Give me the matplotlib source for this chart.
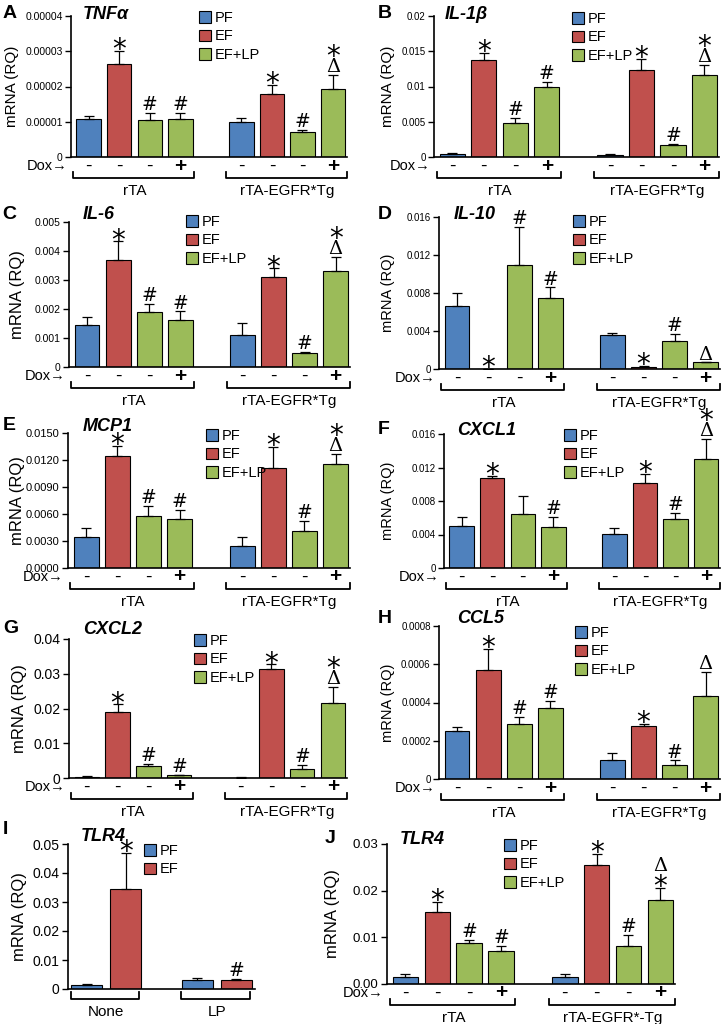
import matplotlib
matplotlib.use('Agg')
import matplotlib.pyplot as plt
from matplotlib.patches import Patch
from matplotlib.lines import Line2D
import matplotlib.transforms as mtransforms

plt.rcParams['font.family'] = ['Liberation Sans', 'DejaVu Sans']

# ---------------- data ----------------
groups8 = ['PF', 'EF', 'EF+LP', 'EF+LP', 'PF', 'EF', 'EF+LP', 'EF+LP']
dox8 = ['-', '-', '-', '+', '-', '-', '-', '+']
genotypes = ['rTA', 'rTA-EGFR*Tg']
genotypes_J = ['rTA', 'rTA-EGFR*-Tg']

A_mean = [1.08e-5, 2.63e-5, 1.05e-5, 1.07e-5, 1.00e-5, 1.78e-5, 0.70e-5, 1.92e-5]
A_sem = [0.09e-5, 0.38e-5, 0.21e-5, 0.18e-5, 0.11e-5, 0.27e-5, 0.08e-5, 0.42e-5]
A_marks = [[], ['*'], ['#'], ['#'], [], ['*'], ['#'], ['Δ', '*']]

B_mean = [0.0004, 0.0137, 0.0048, 0.0100, 0.0003, 0.0124, 0.0017, 0.0116]
B_sem = [0.0001, 0.0011, 0.0007, 0.0006, 0.0001, 0.0015, 0.0002, 0.0015]
B_marks = [[], ['*'], ['#'], ['#'], [], ['*'], ['#'], ['Δ', '*']]

C_mean = [0.00146, 0.00368, 0.00188, 0.00162, 0.00112, 0.0031, 0.00048, 0.0033]
C_sem = [0.00025, 0.00065, 0.0003, 0.0003, 0.0004, 0.0003, 0.00005, 0.0005]
C_marks = [[], ['*'], ['#'], ['#'], [], ['*'], ['#'], ['Δ', '*']]

D_mean = [0.0066, 0.00005, 0.0110, 0.0075, 0.0036, 0.0002, 0.0029, 0.0007]
D_sem = [0.0014, 0.0, 0.0040, 0.0011, 0.0002, 0.0001, 0.0008, 0.0]
D_marks = [[], ['*'], ['#'], ['#'], [], ['*'], ['#'], ['Δ']]

E_mean = [0.0034, 0.0125, 0.0058, 0.0054, 0.0025, 0.0111, 0.0041, 0.0116]
E_sem = [0.0011, 0.0011, 0.0011, 0.0011, 0.0010, 0.0024, 0.0011, 0.0011]
E_marks = [[], ['*'], ['#'], ['#'], [], ['*'], ['#'], ['Δ', '*']]

F_mean = [0.0050, 0.0107, 0.0064, 0.0049, 0.0041, 0.0101, 0.0059, 0.0130]
F_sem = [0.0011, 0.0003, 0.0022, 0.0012, 0.0007, 0.0011, 0.0007, 0.0024]
F_marks = [[], ['*'], [], ['#'], [], ['*'], ['#'], ['Δ', '*']]

G_mean = [0.0004, 0.0191, 0.0034, 0.0008, 0.0001, 0.0313, 0.0026, 0.0216]
G_sem = [0.0001, 0.0021, 0.0006, 0.0002, 0.0001, 0.0014, 0.0012, 0.0047]
G_marks = [[], ['*'], ['#'], ['#'], [], ['*'], ['#'], ['Δ', '*']]

H_mean = [0.00025, 0.00057, 0.00029, 0.00037, 0.00010, 0.000275, 0.000075, 0.000435]
H_sem = [0.000022, 0.00011, 0.000035, 0.00004, 0.000035, 0.000015, 0.000022, 0.000125]
H_marks = [[], ['*'], ['#'], ['#'], [], ['*'], ['#'], ['Δ']]

I_groups = ['PF', 'EF', 'PF', 'EF']
I_treat = ['None', 'LP']
I_mean = [0.0015, 0.0345, 0.0031, 0.0032]
I_sem = [0.0003, 0.0125, 0.0007, 0.0004]
I_marks = [[], ['*'], [], ['#']]

J_mean = [0.0015, 0.0155, 0.0087, 0.0070, 0.0015, 0.0256, 0.0081, 0.0179]
J_sem = [0.0006, 0.0021, 0.0008, 0.0012, 0.0006, 0.0022, 0.0025, 0.0027]
J_marks = [[], ['*'], ['#'], ['#'], [], ['*'], ['#'], ['*', 'Δ']]

A_ticks = [0, 1e-5, 2e-5, 3e-5, 4e-5]
A_labels = ['0', '0.00001', '0.00002', '0.00003', '0.00004']
B_ticks = [0, 0.005, 0.01, 0.015, 0.02]
B_labels = ['0', '0.005', '0.01', '0.015', '0.02']
C_ticks = [0, 0.001, 0.002, 0.003, 0.004, 0.005]
C_labels = ['0', '0.001', '0.002', '0.003', '0.004', '0.005']
D_ticks = [0, 0.004, 0.008, 0.012, 0.016]
D_labels = ['0', '0.004', '0.008', '0.012', '0.016']
E_ticks = [0, 0.003, 0.006, 0.009, 0.012, 0.015]
E_labels = ['0.0000', '0.0030', '0.0060', '0.0090', '0.0120', '0.0150']
F_ticks = [0, 0.004, 0.008, 0.012, 0.016]
F_labels = ['0', '0.004', '0.008', '0.012', '0.016']
G_ticks = [0, 0.01, 0.02, 0.03, 0.04]
G_labels = ['0', '0.01', '0.02', '0.03', '0.04']
H_ticks = [0, 0.0002, 0.0004, 0.0006, 0.0008]
H_labels = ['0', '0.0002', '0.0004', '0.0006', '0.0008']
I_ticks = [0, 0.01, 0.02, 0.03, 0.04, 0.05]
I_labels = ['0', '0.01', '0.02', '0.03', '0.04', '0.05']
J_ticks = [0, 0.01, 0.02, 0.03]
J_labels = ['0.00', '0.01', '0.02', '0.03']

COLORS = {'PF': '#4F81BD', 'EF': '#C0504D', 'EF+LP': '#9BBB59'}

# glyph metrics (fraction of font size): bottom, top of visible ink above baseline
GLYPH = {'*': (0.36, 0.77, 20, 'DejaVu Sans'),
         '#': (0.0, 0.73, 13.5, 'DejaVu Sans'),
         'Δ': (0.0, 0.73, 14, 'DejaVu Serif')}

# ---------------- layout ----------------
W, H = 725, 1024
fig = plt.figure(figsize=(7.25, 10.24), dpi=100)

X8 = [0, 1, 2, 3, 5, 6, 7, 8]
XI = [0, 1, 2.85, 3.85]


def fx(px):
    return px / W


def fy(py):
    return 1 - py / H


def panel(letter, gene, rect, mean, sem, marks, ticks, labels, tick_fs, ylab_fs,
          ylab_right, legend_xy, letter_xy, title_xy, bar_groups, xs, xlim,
          legend_names, group_names=genotypes, dox=True):
    left, top, right, bottom = rect
    w, h = right - left, bottom - top
    ax = fig.add_axes([fx(left), fy(bottom), w / W, h / H])
    colors = [COLORS[g] for g in bar_groups]
    ax.bar(xs, mean, width=0.8, color=colors, edgecolor='black', linewidth=0.8, zorder=2)
    ax.errorbar(xs, mean, yerr=[[0] * len(sem), sem], fmt='none', ecolor='black',
                elinewidth=0.9, capsize=3.5, capthick=0.9, zorder=3)
    ax.set_xlim(*xlim)
    ax.set_ylim(0, ticks[-1])
    ax.set_yticks(ticks)
    ax.set_yticklabels(labels, fontsize=tick_fs)
    ax.set_xticks([])
    for s in ['top', 'right']:
        ax.spines[s].set_visible(False)
    ax.spines['left'].set_linewidth(1.2)
    ax.spines['bottom'].set_linewidth(1.2)
    ax.tick_params(axis='y', direction='out', length=4, width=1.0, pad=2)
    ax.set_ylabel('mRNA (RQ)', fontsize=ylab_fs)
    ax.yaxis.set_label_coords((ylab_right - left) / w, 0.5)

    # significance marks
    for x, m, s, mk in zip(xs, mean, sem, marks):
        level = 2.0
        for sym in mk:
            b, t, fs, fam = GLYPH[sym]
            base = level - b * fs
            ax.annotate(sym, xy=(x, m + s), xytext=(0, base), textcoords='offset points',
                        ha='center', va='baseline', fontsize=fs, annotation_clip=False,
                        family=[fam])
            level = base + t * fs + 2.0

    trans = mtransforms.blended_transform_factory(ax.transData, ax.transAxes)
    if dox:
        for x, d in zip(xs, dox8):
            ax.text(x, -9 / h, d, transform=trans, ha='center', va='center',
                    fontsize=15 if d == '+' else 14, fontweight='bold' if d == '+' else 'normal')
        ax.text(-4 / w, -9 / h, 'Dox→', transform=ax.transAxes, ha='right', va='center',
                fontsize=10.5)
        by, tick_h, ly = 21, 6, 34
        nper = 4
        lo, hi = -0.5, 0.45
    else:
        by, tick_h, ly = 10, 7, 23
        nper = 2
        lo, hi = -0.42, 0.35
    # brackets
    for gi, name in enumerate(group_names):
        gx = xs[gi * nper:(gi + 1) * nper]
        x0, x1 = gx[0] + lo, gx[-1] + hi
        ax.add_line(Line2D([x0, x0, x1, x1],
                           [-(by - tick_h) / h, -by / h, -by / h, -(by - tick_h) / h],
                           transform=trans, color='black', lw=1.3, clip_on=False))
        ax.text((gx[0] + gx[-1]) / 2, -ly / h, name, transform=trans, ha='center',
                va='center', fontsize=11)

    # legend
    handles = [Patch(facecolor=COLORS[n], edgecolor='black', linewidth=0.8) for n in legend_names]
    lx, lyy = legend_xy
    ax.legend(handles, legend_names, loc='upper left',
              bbox_to_anchor=((lx - left) / w, (bottom - lyy) / h),
              frameon=False, fontsize=10.5, borderpad=0, borderaxespad=0,
              handlelength=0.85, handleheight=0.85, handletextpad=0.25,
              labelspacing=0.3)

    fig.text(fx(letter_xy[0]), fy(letter_xy[1]), letter, fontsize=14, fontweight='bold',
             ha='left', va='top')
    fig.text(fx(title_xy[0]), fy(title_xy[1]), gene, fontsize=13, fontweight='bold',
             fontstyle='italic', ha='left', va='top')
    return ax


XL8 = (-0.58, 8.46)
L3 = ['PF', 'EF', 'EF+LP']

panel('A', 'TNFα', (71, 16, 347, 157), A_mean, A_sem, A_marks, A_ticks, A_labels, 7.5, 11,
      19, (199, 11), (3, 5), (83, 6), groups8, X8, XL8, L3)
panel('B', 'IL-1β', (434, 16, 719, 157), B_mean, B_sem, B_marks, B_ticks, B_labels, 7, 11,
      395, (572, 12), (378, 5), (445, 6), groups8, X8, XL8, L3)
panel('C', 'IL-6', (69, 222, 350, 367), C_mean, C_sem, C_marks, C_ticks, C_labels, 7.5, 12,
      25, (186, 215), (2, 206), (83, 206), groups8, X8, XL8, L3)
panel('D', 'IL-10', (439, 217, 720, 369), D_mean, D_sem, D_marks, D_ticks, D_labels, 7, 10.5,
      395, (573, 215), (378, 206), (454, 206), groups8, X8, XL8, L3)
panel('E', 'MCP1', (68, 433, 350, 568), E_mean, E_sem, E_marks, E_ticks, E_labels, 8, 12,
      25, (206, 429), (3, 417), (83, 418), groups8, X8, XL8, L3)
panel('F', 'CXCL1', (444, 434, 720, 568), F_mean, F_sem, F_marks, F_ticks, F_labels, 7, 10.5,
      395, (564, 429), (378, 421), (457, 422), groups8, X8, XL8, L3)
panel('G', 'CXCL2', (69, 639, 347, 778), G_mean, G_sem, G_marks, G_ticks, G_labels, 10, 12,
      27, (194, 634), (3, 620), (83, 621), groups8, X8, XL8, L3)
panel('H', 'CCL5', (439, 626, 720, 779), H_mean, H_sem, H_marks, H_ticks, H_labels, 7, 10.5,
      395, (575, 626), (378, 610), (457, 610), groups8, X8, XL8, L3)
panel('I', 'TLR4', (68, 844, 255, 989), I_mean, I_sem, I_marks, I_ticks, I_labels, 10, 12,
      27, (144, 844), (3, 821), (81, 828), I_groups, XI, (-0.49, 4.34), ['PF', 'EF'],
      group_names=I_treat, dox=False)
panel('J', 'TLR4', (387, 844, 675, 984), J_mean, J_sem, J_marks, J_ticks, J_labels, 9.5, 12,
      340, (504, 839), (325, 830), (400, 831), groups8, X8, XL8, L3,
      group_names=genotypes_J)

fig.savefig('out.png', dpi=100)
